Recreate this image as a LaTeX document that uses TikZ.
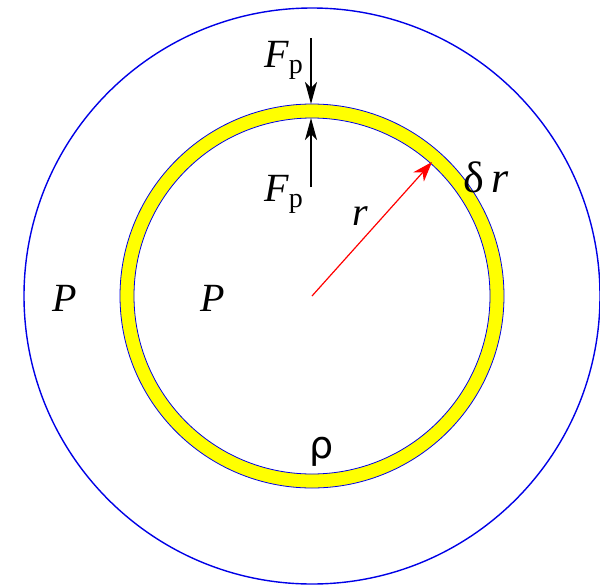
\documentclass[tikz,border=0pt]{standalone}
\usepackage{fontspec}
\setmainfont{Liberation Serif}
\newfontfamily\greeksans{DejaVu Sans}
\usepackage{tikz}
\usetikzlibrary{arrows.meta,positioning}
\definecolor{ringyellow}{HTML}{FFFF00}
\definecolor{ringblue}{HTML}{0000E6}

\begin{document}
\begin{tikzpicture}[
    x=0.5pt, y=-0.5pt,
    force/.style={thick, -{Stealth[length=11pt,width=6pt,inset=3pt]}},
    radius arrow/.style={red, semithick, -{Stealth[length=10pt,width=7pt,inset=3pt]}},
    label/.style={font=\fontsize{20}{24}\selectfont, inner sep=1pt}
]
    \useasboundingbox (0,0) rectangle (600,584);

    % Circles
    \coordinate (centre) at (312,296);
    \draw[ringblue, line width=0.7pt] (centre) circle[radius=288];
    \fill[ringyellow, even odd rule] (centre) circle[radius=192] (centre) circle[radius=178];
    \draw[ringblue, line width=0.4pt] (centre) circle[radius=192];
    \draw[ringblue, line width=0.4pt] (centre) circle[radius=178];

    % Forces
    \coordinate (outer top) at (311,104);
    \coordinate (inner top) at (311,118);
    \coordinate (force in) at (311,38);
    \coordinate (force out) at (311,187);
    \draw[force] (force in) -- (outer top);
    \draw[force] (force out) -- (inner top);
    \node[label] (fp top) at (284,60) {\textit{F}\textsubscript{p}};
    \node[label] (fp bottom) at (284,194) {\textit{F}\textsubscript{p}};

    % Radius
    \coordinate (rim) at (432,162);
    \draw[radius arrow] (centre) -- (rim);
    \node[label] (r) at (360,216) {\textit{r}};
    \node[label, font=\fontsize{22}{24}\selectfont] (dr) at (486,177) {δ\,\textit{r}};

    % Pressures and density
    \node[label] (p out) at (65,298) {\textit{P}};
    \node[label] (p in) at (213,298) {\textit{P}};
    \node[label, font=\greeksans\fontsize{19}{22}\selectfont] (rho) at (322,452) {ρ};

\end{tikzpicture}
\end{document}
